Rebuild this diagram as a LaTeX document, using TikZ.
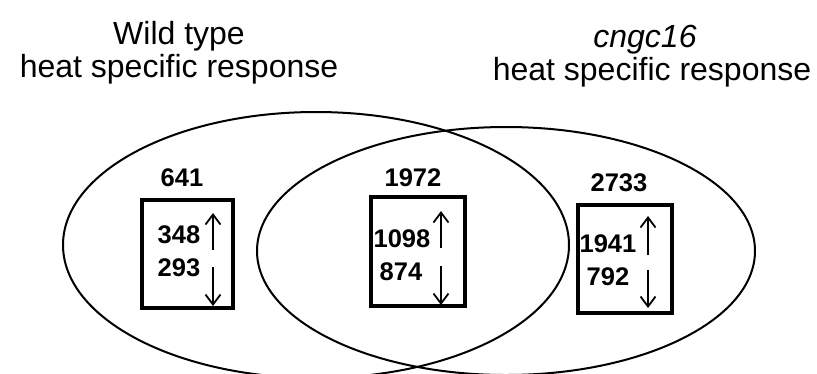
\documentclass[tikz,border=0pt]{standalone}
\usepackage{fontspec}
\setmainfont{Liberation Sans}
\usetikzlibrary{arrows.meta}
\begin{document}
\begin{tikzpicture}[x=1pt,y=-1pt,
  title/.style={font=\fontsize{32}{34}\selectfont, inner sep=0pt, anchor=base},
  count/.style={font=\fontsize{25.5}{27}\selectfont\bfseries, inner sep=0pt},
  setline/.style={line width=2pt, draw=black},
  countbox/.style={draw=black, line width=4pt, inner sep=0pt, rectangle},
  updown/.style={line width=2pt, -{Straight Barb[length=10pt,width=15pt,line width=1.8pt]}}]
\useasboundingbox[fill=white] (0,0) rectangle (817,373);
% titles
\node[title] (wt1) at (179,44) {Wild type};
\node[title] (wt2) at (179,77) {heat specific response};
\node[title] (cn1) at (645,47) {\itshape cngc16};
\node[title] (cn2) at (652,80) {heat specific response};
% sets
\draw[setline] (316,245) ellipse [x radius=253, y radius=133];
\draw[setline] (506,251) ellipse [x radius=249, y radius=124];
% boxes
\node[countbox, minimum width=91pt, minimum height=108pt] (b1) at (187.5,254) {};
\node[countbox, minimum width=94pt, minimum height=109pt] (b2) at (418,251.5) {};
\node[countbox, minimum width=94pt, minimum height=108pt] (b3) at (625,259) {};
% totals
\node[count] (t1) at (182,178) {641};
\node[count] (t2) at (413,178) {1972};
\node[count] (t3) at (619,183) {2733};
% up / down counts
\node[count] (u1) at (179,235) {348};
\node[count] (d1) at (179,268) {293};
\node[count] (u2) at (402,239) {1098};
\node[count] (d2) at (401,272) {874};
\node[count] (u3) at (608,244) {1941};
\node[count] (d3) at (608,277) {792};
% arrows
\coordinate (a1s) at (213,250); \coordinate (a1e) at (213,213);
\coordinate (a1t) at (213,267); \coordinate (a1b) at (213,306);
\coordinate (a2s) at (441,248); \coordinate (a2e) at (441,211);
\coordinate (a2t) at (441,266); \coordinate (a2b) at (441,305);
\coordinate (a3s) at (648,255); \coordinate (a3e) at (648,216);
\coordinate (a3t) at (648,270); \coordinate (a3b) at (648,308);
\draw[updown] (a1s) -- (a1e);
\draw[updown] (a1t) -- (a1b);
\draw[updown] (a2s) -- (a2e);
\draw[updown] (a2t) -- (a2b);
\draw[updown] (a3s) -- (a3e);
\draw[updown] (a3t) -- (a3b);
\end{tikzpicture}
\end{document}
